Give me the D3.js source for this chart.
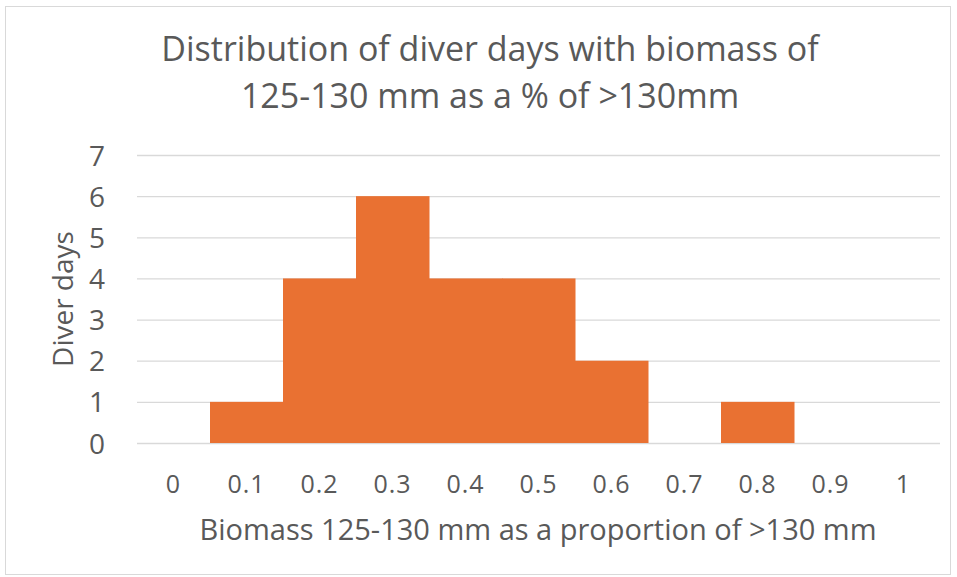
<!DOCTYPE html>
<html>
<head>
<meta charset="utf-8">
<script src="https://cdn.jsdelivr.net/npm/d3@7"></script>
<style>
  body { margin: 0; background: #fff; }
  svg text { font-family: "Open Sans", "Liberation Sans", sans-serif; fill: #595959; }
</style>
</head>
<body>
<div id="chart"></div>
<script>
//data
var categories = ['0', '0.1', '0.2', '0.3', '0.4', '0.5', '0.6', '0.7', '0.8', '0.9', '1'];
var diverDays = [0, 1, 4, 6, 4, 4, 2, 0, 1, 0, 0];
var yTicks = [0, 1, 2, 3, 4, 5, 6, 7];
var titleLines = ['Distribution of diver days with biomass of', '125-130 mm as a % of >130mm'];

//sizes
var outerW = 957,
    outerH = 577;

var margin = {top: 155, right: 17, bottom: 134, left: 137};
var w = outerW - margin.left - margin.right,
    h = outerH - margin.top - margin.bottom;

var svg = d3.select('#chart').append('svg')
    .attr('width', outerW)
    .attr('height', outerH);

//chart border
svg.append('rect')
    .attr('x', 5.5)
    .attr('y', 6.5)
    .attr('width', 945)
    .attr('height', 568)
    .attr('fill', '#fff')
    .attr('stroke', '#d9d9d9');

//scales
var xScale = d3.scaleBand()
    .domain(categories)
    .range([0, w])
    .padding(0);

var yScale = d3.scaleLinear()
    .domain([0, 7])
    .range([h, 0]);

var g = svg.append('g')
    .attr('transform', 'translate(' + margin.left + ', ' + margin.top + ')');

//gridlines
var yAxis = d3.axisLeft(yScale)
    .tickValues(yTicks)
    .tickSize(-w)
    .tickFormat(d3.format('d'));

var yAxisG = g.append('g')
    .attr('class', 'y-axis')
    .call(yAxis);

yAxisG.select('.domain').remove();
yAxisG.selectAll('.tick line')
    .attr('stroke', '#d9d9d9')
    .attr('stroke-width', 1.3);
yAxisG.selectAll('.tick text')
    .attr('x', -32)
    .attr('dy', '0.36em')
    .style('font-size', '28px');

//bars
g.append('g')
    .selectAll('rect')
    .data(diverDays)
    .enter().append('rect')
    .attr('x', function(d, i) { return xScale(categories[i]); })
    .attr('y', function(d) { return yScale(d); })
    .attr('width', xScale.bandwidth() + 0.5)
    .attr('height', function(d) { return h - yScale(d); })
    .attr('fill', '#e97132');

//x axis
var xAxis = d3.axisBottom(xScale).tickSize(0);
var xAxisG = g.append('g')
    .attr('class', 'x-axis')
    .attr('transform', 'translate(0, ' + h + ')')
    .call(xAxis);

xAxisG.select('.domain').remove();
xAxisG.selectAll('.tick text')
    .attr('y', 50)
    .attr('dy', 0)
    .style('font-size', '25px')
    .style('letter-spacing', '1px');

//titles
svg.append('g').selectAll('text')
    .data(titleLines)
    .enter().append('text')
    .attr('x', 490)
    .attr('y', function(d, i) { return 61 + i * 47; })
    .attr('text-anchor', 'middle')
    .style('font-size', '34px')
    .text(function(d) { return d; });

svg.append('text')
    .attr('x', 538)
    .attr('y', 540)
    .attr('text-anchor', 'middle')
    .style('font-size', '29px')
    .text('Biomass 125-130 mm as a proportion of >130 mm');

svg.append('text')
    .attr('transform', 'translate(73, 299) rotate(-90)')
    .attr('text-anchor', 'middle')
    .style('font-size', '28px')
    .text('Diver days');
</script>
</body>
</html>
